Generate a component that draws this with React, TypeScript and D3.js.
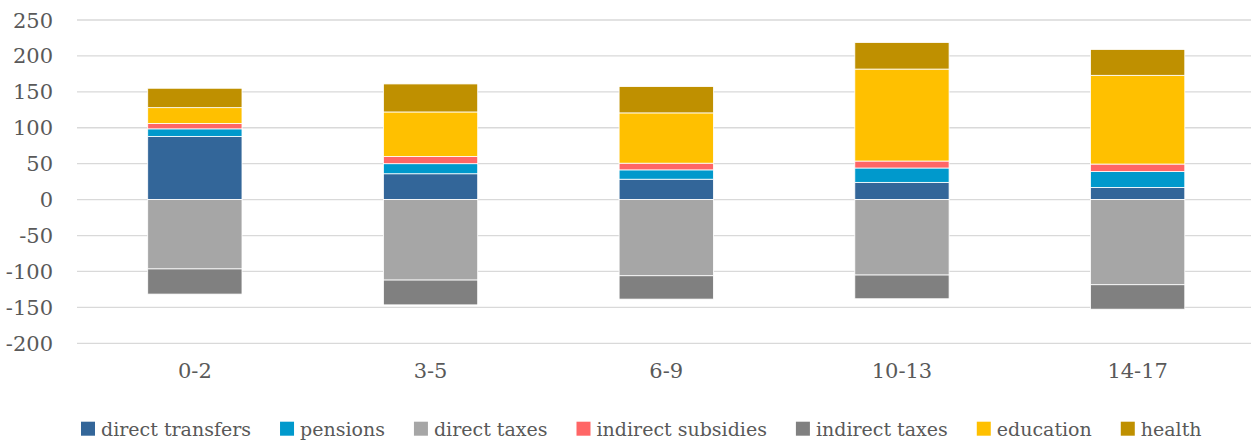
import React, { useEffect, useRef } from "react";
import * as d3 from "d3";

const categories = ["0-2", "3-5", "6-9", "10-13", "14-17"];
const seriesNames = [
  "direct transfers",
  "pensions",
  "direct taxes",
  "indirect subsidies",
  "indirect taxes",
  "education",
  "health",
];
const directTransfers = [88, 36, 28.4, 24, 17];
const pensions = [10.5, 14, 13, 20, 22];
const directTaxes = [-96.5, -112, -106, -105, -118.5];
const indirectSubsidies = [7.5, 10, 9.3, 9.7, 10.5];
const indirectTaxes = [-35, -34.5, -32.5, -33, -34];
const education = [22, 62, 70, 128, 123.5];
const health = [27, 39, 36.6, 37, 36];
const seriesColors = ["#336699", "#0099CC", "#A6A6A6", "#FF6666", "#808080", "#FFC000", "#BF9000"];
const yTicks = [250, 200, 150, 100, 50, 0, -50, -100, -150, -200];

const W = 1251;
const H = 441;
const FONT = '"DejaVu Serif", "Liberation Serif", serif';
const TEXT = "#595959";

export default function App() {
  const ref = useRef<SVGSVGElement | null>(null);

  useEffect(() => {
    const svg = d3.select(ref.current);
    svg.selectAll("*").remove();

    const seriesValues = [directTransfers, pensions, directTaxes, indirectSubsidies, indirectTaxes, education, health];
    const rows = categories.map((c, i) => {
      const r: any = { cat: c };
      seriesNames.forEach((s, k) => (r[s] = seriesValues[k][i]));
      return r;
    });

    const x = d3.scaleBand<string>().domain(categories).range([77, 1255.5]).paddingInner(0.6).paddingOuter(0.3);
    const y = d3.scaleLinear().domain([-200, 250]).range([343.3, 20]);

    svg
      .append("g")
      .selectAll("line")
      .data(yTicks)
      .join("line")
      .attr("x1", 77)
      .attr("x2", W)
      .attr("y1", (d) => y(d))
      .attr("y2", (d) => y(d))
      .attr("stroke", "#D9D9D9")
      .attr("stroke-width", 1.3);

    svg
      .append("g")
      .selectAll("text")
      .data(yTicks)
      .join("text")
      .attr("x", 53)
      .attr("y", (d) => y(d))
      .attr("dy", "0.36em")
      .attr("text-anchor", "end")
      .attr("font-family", FONT)
      .attr("font-size", 21)
      .attr("fill", TEXT)
      .text((d) => String(d));

    const stack = d3.stack<any>().keys(seriesNames).offset(d3.stackOffsetDiverging);
    const layers = stack(rows);

    svg
      .append("g")
      .selectAll("g")
      .data(layers)
      .join("g")
      .attr("fill", (_d, i) => seriesColors[i])
      .selectAll("rect")
      .data((d) => d)
      .join("rect")
      .attr("x", (d: any) => x(d.data.cat)!)
      .attr("width", x.bandwidth())
      .attr("y", (d: any) => y(Math.max(d[0], d[1])))
      .attr("height", (d: any) => Math.abs(y(d[0]) - y(d[1])))
      .attr("stroke", "#FFFFFF")
      .attr("stroke-width", 0.8);

    svg
      .append("g")
      .selectAll("text")
      .data(categories)
      .join("text")
      .attr("x", (d) => x(d)! + x.bandwidth() / 2)
      .attr("y", 378)
      .attr("text-anchor", "middle")
      .attr("font-family", FONT)
      .attr("font-size", 21)
      .attr("fill", TEXT)
      .text((d) => d);

    const lg = svg.append("g");
    let cx = 81;
    seriesNames.forEach((name, i) => {
      lg.append("rect")
        .attr("x", cx)
        .attr("y", 421.7)
        .attr("width", 14)
        .attr("height", 14)
        .attr("fill", seriesColors[i]);
      const t = lg
        .append("text")
        .attr("x", cx + 20)
        .attr("y", 436)
        .attr("font-family", FONT)
        .attr("font-size", 19)
        .attr("fill", TEXT)
        .text(name);
      const w = (t.node() as SVGTextElement).getComputedTextLength();
      cx = cx + 20 + w + 29;
    });
  }, []);

  return (
    <svg
      ref={ref}
      width={W}
      height={H}
      style={{ position: "absolute", left: 0, top: 0, background: "#fff" }}
    />
  );
}
